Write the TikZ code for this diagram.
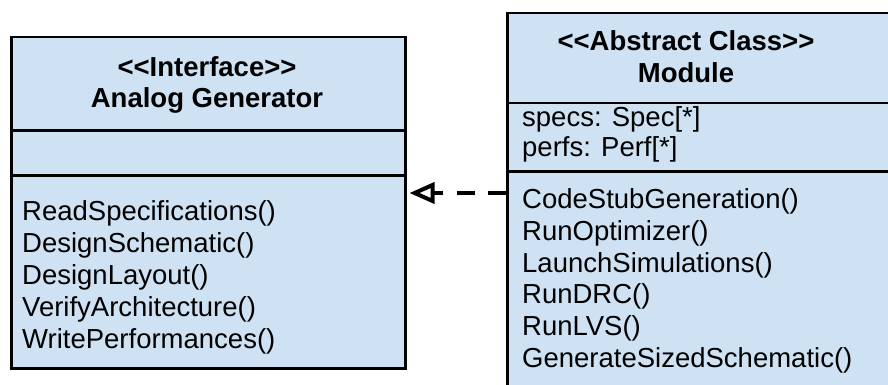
\documentclass[tikz,border=0pt]{standalone}
\usepackage{fontspec}
\setmainfont{Liberation Sans}
\usetikzlibrary{arrows.meta}
\definecolor{umlfill}{HTML}{CFE2F3}
\begin{document}
\begin{tikzpicture}[x=1pt,y=-1pt,
  compart/.style={draw=black, fill=umlfill, line width=2.5pt, rectangle,
    inner sep=0pt, anchor=north west},
  txt/.style={inner sep=0pt, font=\fontsize{27.5pt}{31.6pt}\selectfont},
  hdr/.style={inner sep=0pt, anchor=base, font=\fontsize{27.5pt}{31.6pt}\selectfont\bfseries},
  meth/.style={txt, anchor=base west},
  realize/.style={line width=4pt, dash pattern=on 18pt off 13.5pt,
    -{Triangle[open, length=25pt, width=21pt, line width=4pt]}, shorten >=3pt}]
\useasboundingbox (0,0) rectangle (888,385);
\clip (0,0) rectangle (888,385);

% Interface: Analog Generator
\node[compart, minimum width=394pt, minimum height=93pt] (aghead) at (10,36) {};
\node[compart, minimum width=394pt, minimum height=45pt] (agattr) at (10,129) {};
\node[compart, minimum width=394pt, minimum height=193pt] (agops) at (10,174) {};
\node[hdr] (agst) at (207,77) {<\kern0pt<Interface>\kern0pt>};
\node[hdr] (agname) at (207,108) {Analog Generator};
\node[meth] (ag1) at (22,220) {ReadSpecifications()};
\node[meth] (ag2) at (22,252) {DesignSchematic()};
\node[meth] (ag3) at (22,284) {DesignLayout()};
\node[meth] (ag4) at (22,316) {VerifyArchitecture()};
\node[meth] (ag5) at (22,348) {WritePerformances()};

% Abstract class: Module (runs past the right and bottom edges)
\node[compart, minimum width=420pt, minimum height=90pt] (modhead) at (506,12) {};
\node[compart, minimum width=420pt, minimum height=68pt] (modattr) at (506,102) {};
\node[compart, minimum width=420pt, minimum height=260pt] (modops) at (506,170) {};
\node[hdr] (modst) at (686,51) {<\kern0pt<Abstract Class>\kern0pt>};
\node[hdr] (modname) at (686,83) {Module};
\node[meth] (ma1) at (522,127) {specs: Spec[*]};
\node[meth] (ma2) at (522,157) {perfs: Perf[*]};
\node[meth] (mo1) at (522,208) {CodeStubGeneration()};
\node[meth] (mo2) at (522,240) {RunOptimizer()};
\node[meth] (mo3) at (522,272) {LaunchSimulations()};
\node[meth] (mo4) at (522,303) {RunDRC()};
\node[meth] (mo5) at (522,335) {RunLVS()};
\node[meth] (mo6) at (522,367) {GenerateSizedSchematic()};

% Realization arrow
\draw[realize] ([yshift=-23pt]modops.north west) -- ([yshift=-19pt]agops.north east);
\end{tikzpicture}
\end{document}
